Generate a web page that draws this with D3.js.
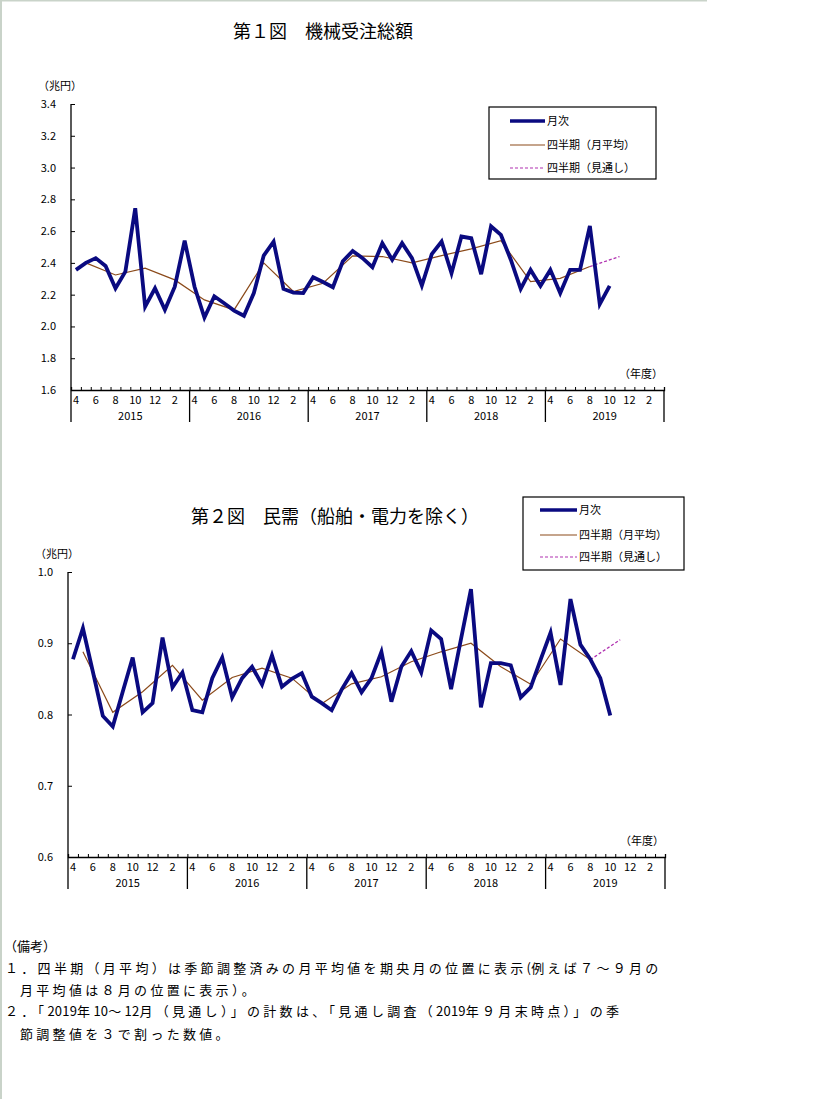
<!DOCTYPE html>
<html><head><meta charset="utf-8">
<script src="https://cdn.jsdelivr.net/npm/d3@7"></script>
<style>
body{margin:0;background:#fff;}
svg{display:block;}
text{font-family:"Noto Sans CJK JP","Noto Sans",sans-serif;fill:#000;}
</style></head>
<body>
<svg id="c" width="819" height="1099"></svg>
<script>
// ---- data ----
const fiscalYears = ["2015","2016","2017","2018","2019"];
const monthLabels = ["4","6","8","10","12","2"];
const monthLabelIdx = [0,2,4,6,8,10];

const total_monthly = [2.356,2.40,2.43,2.38,2.24,2.345,2.744,2.125,2.24,2.105,2.25,2.54,
 2.25,2.056,2.19,2.146,2.10,2.067,2.21,2.446,2.534,2.236,2.213,2.21,
 2.31,2.28,2.247,2.41,2.475,2.43,2.373,2.524,2.42,2.524,2.43,2.257,
 2.455,2.534,2.335,2.566,2.555,2.329,2.63,2.576,2.42,2.236,2.356,2.255,
 2.356,2.21,2.356,2.356,2.633,2.14,2.255];
const total_quarterly = [2.40,2.324,2.367,2.293,2.167,2.104,2.40,2.22,2.272,2.444,2.44,2.40,2.446,2.488,2.54,2.282,2.303,2.377];
const total_forecast = [2.377,2.44];
const total_yTicks = [1.6,1.8,2.0,2.2,2.4,2.6,2.8,3.0,3.2,3.4];

const priv_monthly = [0.8775,0.921,0.86,0.798,0.783,0.832,0.880,0.803,0.816,0.908,0.838,0.859,
 0.806,0.803,0.851,0.880,0.824,0.851,0.867,0.842,0.883,0.839,0.850,0.858,
 0.825,0.816,0.806,0.835,0.858,0.831,0.851,0.888,0.818,0.867,0.889,0.859,
 0.918,0.906,0.8355,0.906,0.976,0.810,0.872,0.872,0.869,0.824,0.838,0.877,
 0.915,0.8415,0.962,0.898,0.8775,0.851,0.7985];
const priv_quarterly = [0.888,0.803,0.832,0.869,0.82,0.852,0.865,0.851,0.815,0.843,0.853,0.874,0.888,0.90,0.867,0.8425,0.906,0.877];
const priv_forecast = [0.877,0.905];
const priv_yTicks = [0.6,0.7,0.8,0.9,1.0];

const legendLabels = ["月次","四半期（月平均）","四半期（見通し）"];

const svg = d3.select("#c");
// page frame
svg.append("rect").attr("x",0).attr("y",0).attr("width",2).attr("height",1099).attr("fill","#c9d3c9");
svg.append("rect").attr("x",0).attr("y",0).attr("width",707).attr("height",1.5).attr("fill","#c9d3c9");

const C_M = "#0a0a80", C_Q = "#8b4a1a", C_F = "#b030b0";

function drawChart(o){
  const g = svg.append("g");
  const nMonths = fiscalYears.length*12;
  const x = d3.scaleLinear().domain([0,nMonths]).range([o.x0,o.x1]);
  const y = d3.scaleLinear().domain(o.yDomain).range([o.yBottom,o.yTop]);
  const fmt = d3.format(".1f");

  g.append("text").attr("x",o.titleX).attr("y",o.titleY).attr("font-size",18).text(o.title);

  const yAxis = d3.axisRight(y).tickValues(o.yTicks).tickSize(4).tickFormat("");
  const ya = g.append("g").attr("transform",`translate(${o.x0},0)`).call(yAxis);
  ya.select(".domain").remove();
  ya.selectAll("line").attr("stroke","#000");
  g.append("line").attr("x1",o.x0).attr("x2",o.x0).attr("y1",o.yTop).attr("y2",o.yBottom+32).attr("stroke","#000").attr("stroke-width",1.3);
  g.selectAll(".yl").data(o.yTicks).join("text").attr("x",o.x0-15).attr("y",d=>y(d)+4)
    .attr("text-anchor","end").attr("font-size",11).text(d=>fmt(d));
  g.append("text").attr("x",o.x0-33).attr("y",o.yTop-14).attr("font-size",11).text("（兆円）");

  const xAxis = d3.axisTop(x).tickValues(d3.range(0,nMonths+1)).tickSize(3).tickFormat("");
  const xa = g.append("g").attr("transform",`translate(0,${o.yBottom})`).call(xAxis);
  xa.select(".domain").attr("stroke","#000").attr("stroke-width",1.3);
  xa.selectAll("line").attr("stroke","#000");
  fiscalYears.forEach((yr,k)=>{
    g.append("line").attr("x1",x(k*12+12)).attr("x2",x(k*12+12)).attr("y1",o.yBottom).attr("y2",o.yBottom+32).attr("stroke","#000").attr("stroke-width",1.3);
    monthLabels.forEach((m,j)=>{
      g.append("text").attr("x",x(k*12+monthLabelIdx[j]+0.5)).attr("y",o.yBottom+14).attr("text-anchor","middle").attr("font-size",11).text(m);
    });
    g.append("text").attr("x",x(k*12+6)).attr("y",o.yBottom+30).attr("text-anchor","middle").attr("font-size",11).text(yr);
  });
  g.append("text").attr("x",o.x1-1).attr("y",o.yBottom-12).attr("text-anchor","end").attr("font-size",11).text("（年度）");

  const line = d3.line().x(d=>x(d[0]+0.5)).y(d=>y(d[1]));
  const qd = o.quarterly.map((v,k)=>[1+3*k,v]);
  const lastQ = 1+3*(o.quarterly.length-1);
  const fd = o.forecast.map((v,k)=>[lastQ+3*k,v]);
  g.append("path").datum(qd).attr("d",line).attr("fill","none").attr("stroke",C_Q).attr("stroke-width",1.2);
  g.append("path").datum(fd).attr("d",line).attr("fill","none").attr("stroke",C_F).attr("stroke-width",1.3).attr("stroke-dasharray","3,2");
  g.append("path").datum(o.monthly.map((v,k)=>[k,v])).attr("d",line).attr("fill","none").attr("stroke",C_M).attr("stroke-width",3.8).attr("stroke-linejoin","miter");

  const L = o.legend;
  g.append("rect").attr("x",L.x).attr("y",L.y).attr("width",L.w).attr("height",L.h).attr("fill","#fff").attr("stroke","#000").attr("stroke-width",1.2);
  const styles = [[C_M,3.5,null],[C_Q,1.2,null],[C_F,1.2,"3,2"]];
  legendLabels.forEach((t,k)=>{
    const yy = L.y+L.rowY[k];
    const ln = g.append("line").attr("x1",L.lx1).attr("x2",L.lx2).attr("y1",yy).attr("y2",yy)
      .attr("stroke",styles[k][0]).attr("stroke-width",styles[k][1]);
    if(styles[k][2]) ln.attr("stroke-dasharray",styles[k][2]);
    g.append("text").attr("x",L.lx2+2).attr("y",yy+4).attr("font-size",11).text(t);
  });
}

drawChart({title:"第１図　機械受注総額",titleX:233,titleY:38,
  x0:71,x1:664,yTop:104,yBottom:390,yDomain:[1.6,3.4],yTicks:total_yTicks,
  monthly:total_monthly,quarterly:total_quarterly,forecast:total_forecast,
  legend:{x:489,y:107,w:167,h:72,rowY:[14,38,61],lx1:510,lx2:545}});

drawChart({title:"第２図　民需（船舶・電力を除く）",titleX:191,titleY:523,
  x0:68,x1:665,yTop:572,yBottom:857,yDomain:[0.6,1.0],yTicks:priv_yTicks,
  monthly:priv_monthly,quarterly:priv_quarterly,forecast:priv_forecast,
  legend:{x:523,y:497,w:161,h:73,rowY:[13,38,60],lx1:540,lx2:577}});

// notes: full-width chars spaced, half-width chars tight
const notes = [
  {t:"（備考）",x:4,y:951},
  {t:"１．四半期（月平均）は季節調整済みの月平均値を期央月の位置に表示(例えば７～９月の",x:5,y:973},
  {t:"月平均値は８月の位置に表示）。",x:20,y:995},
  {t:"２．「2019年10～12月（見通し）」の計数は、「見通し調査（2019年９月末時点）」の季",x:5,y:1016},
  {t:"節調整値を３で割った数値。",x:20,y:1039}
];
notes.forEach((n,i)=>{
  const t = svg.append("text").attr("x",n.x).attr("y",n.y).attr("font-size",13);
  const runs = n.t.match(/[\x00-\x7f]+|[^\x00-\x7f]+/g);
  runs.forEach(r=>{
    const ascii = /^[\x00-\x7f]+$/.test(r);
    t.append("tspan").attr("letter-spacing", i===0 ? 0 : (ascii ? 0.2 : 3.3)).text(r);
  });
});
</script>
</body></html>
